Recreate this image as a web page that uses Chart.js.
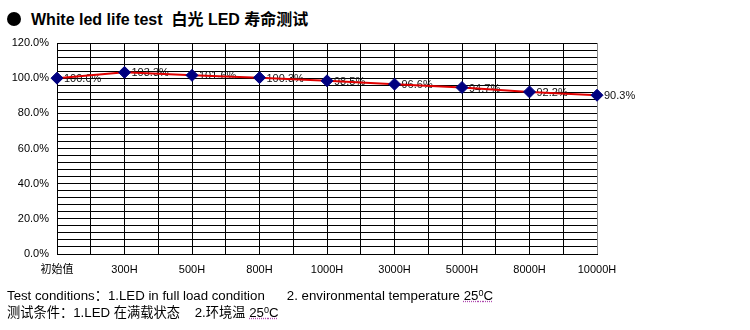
<!DOCTYPE html>
<html>
<head>
<meta charset="utf-8">
<script src="https://cdn.jsdelivr.net/npm/chart.js@4.4.1/dist/chart.umd.min.js"></script>
<style>
  html, body { margin: 0; padding: 0; background: #fff; }
  body { width: 750px; height: 330px; position: relative; overflow: hidden;
         font-family: Arial, "Liberation Sans", "Noto Sans CJK SC", sans-serif; }
  #title { position: absolute; left: 7px; top: 6px; font-size: 16px; font-weight: bold; color: #000; white-space: nowrap; }
  #title .dot { display: inline-block; width: 14px; height: 14px; border-radius: 50%; background: #000;
                vertical-align: -1px; margin-right: 10px; }
  #notes { position: absolute; left: 7px; top: 287px; font-size: 13.25px; line-height: 17px; color: #000; white-space: nowrap; }
  #notes .t { text-decoration: underline dotted #b04ab0; }
  #notes sup { font-size: 9px; vertical-align: 4px; line-height: 0; }
  canvas { position: absolute; left: 0; top: 0; }
</style>
</head>
<body>
<div id="title"><span class="dot"></span>White led life test&nbsp; 白光 LED 寿命测试</div>
<canvas id="lifeChart" width="750" height="330"></canvas>
<div id="notes">
  <div>Test conditions：1.LED in full load condition&nbsp;&nbsp;&nbsp;&nbsp;&nbsp; 2. environmental temperature <span class="t">25<sup>0</sup>C</span></div>
  <div>测试条件：1.LED 在满载状态&nbsp;&nbsp;&nbsp; 2.环境温 <span class="t">25<sup>0</sup>C</span></div>
</div>
<script>
// checkpoints and luminous flux retention (%)
const hours = ['初始值', '300H', '500H', '800H', '1000H', '3000H', '5000H', '8000H', '10000H'];
const retention = [100.0, 103.3, 101.6, 100.3, 98.5, 96.6, 94.7, 92.2, 90.3];
const yTicks = [0, 20, 40, 60, 80, 100, 120];

const FONT = 'Arial, "Liberation Sans", "Noto Sans CJK SC", sans-serif';
const lastX = (hours.length - 1) * 2;

// value labels sit right of each marker, underneath the line
const pointLabels = {
  id: 'pointLabels',
  beforeDatasetsDraw(chart) {
    const ctx = chart.ctx;
    const meta = chart.getDatasetMeta(0);
    ctx.save();
    ctx.font = '11px ' + FONT;
    ctx.fillStyle = '#111';
    ctx.textAlign = 'left';
    ctx.textBaseline = 'middle';
    meta.data.forEach((pt, i) => {
      ctx.fillText(retention[i].toFixed(1) + '%', pt.x + 7, pt.y + 1);
    });
    ctx.restore();
  }
};

new Chart(document.getElementById('lifeChart').getContext('2d'), {
  type: 'line',
  data: {
    datasets: [{
      data: retention.map((v, i) => ({ x: i, y: v })),
      borderColor: '#e00000',
      borderWidth: 2,
      tension: 0,
      clip: false,
      pointStyle: 'rectRot',
      pointRadius: 6,
      pointBackgroundColor: '#000080',
      pointBorderColor: '#000080',
      pointBorderWidth: 1,
    }]
  },
  options: {
    responsive: false,
    animation: false,
    layout: { padding: { top: 43, right: 153, bottom: 0, left: 0 } },
    plugins: { legend: { display: false }, tooltip: { enabled: false } },
    scales: {
      x: {
        type: 'linear', min: 0, max: hours.length - 1,
        afterFit: s => { s.height = 76; },
        afterBuildTicks: s => {
          s.ticks = [];
          for (let k = 0; k <= lastX; k++) s.ticks.push({ value: k / 2 });
        },
        grid: { color: c => c.index === lastX ? '#888' : '#000', lineWidth: 1, drawTicks: false },
        border: { color: '#000' },
        ticks: {
          padding: 9, color: '#000', font: { family: FONT, size: 11 }, maxRotation: 0, autoSkip: false,
          callback: v => Number.isInteger(v) ? hours[v] : ''
        }
      },
      y: {
        min: 0, max: 120,
        afterFit: s => { s.width = 57; },
        afterBuildTicks: s => {
          s.ticks = [];
          for (let v = 0; v <= 120; v += 4) s.ticks.push({ value: v });
        },
        grid: { color: '#000', lineWidth: 1, drawTicks: false },
        border: { color: '#000' },
        ticks: {
          padding: 8, color: '#000', font: { family: FONT, size: 11 }, autoSkip: false,
          callback: v => yTicks.includes(v) ? v.toFixed(1) + '%' : ''
        }
      }
    }
  },
  plugins: [pointLabels]
});
</script>
</body>
</html>
